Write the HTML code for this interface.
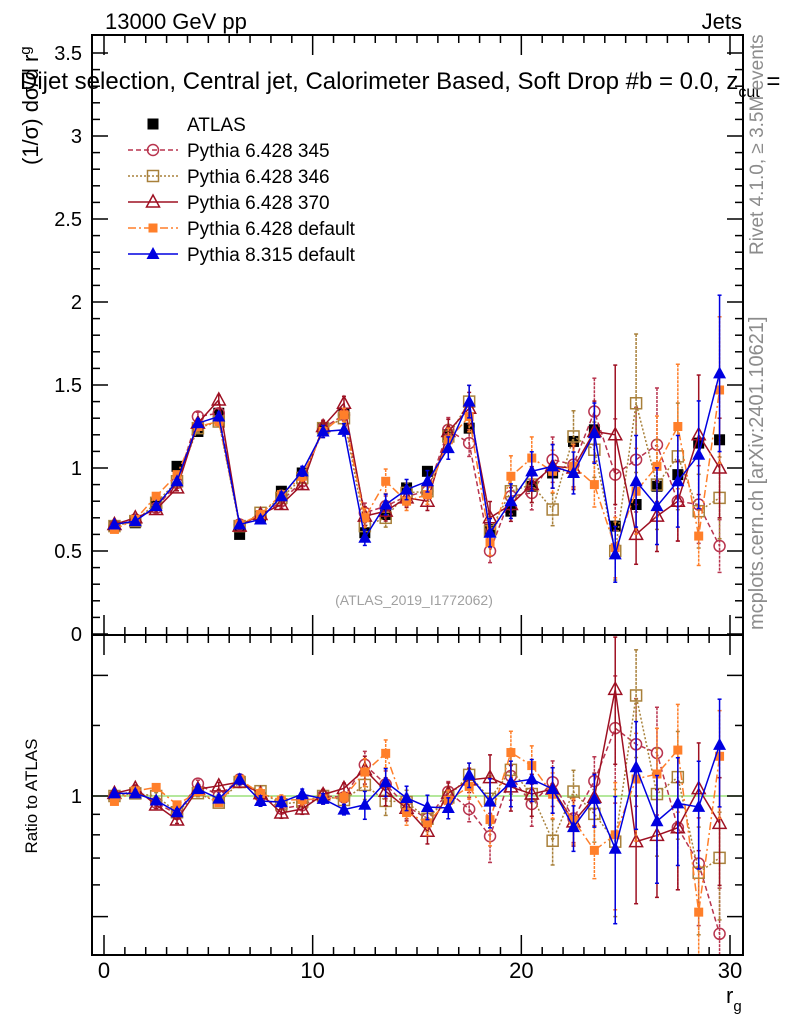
<!DOCTYPE html>
<html><head><meta charset="utf-8"><style>
html,body{margin:0;padding:0;background:#fff;}
svg{display:block;font-family:"Liberation Sans",sans-serif;}
</style></head><body>
<svg id="c" width="786" height="1024" viewBox="0 0 786 1024"></svg>
<script>
const bins=[0.5,1.5,2.5,3.5,4.5,5.5,6.5,7.5,8.5,9.5,10.5,11.5,12.5,13.5,14.5,15.5,16.5,17.5,18.5,19.5,20.5,21.5,22.5,23.5,24.5,25.5,26.5,27.5,28.5,29.5];
const atlas=[0.65,0.67,0.79,1.01,1.22,1.33,0.60,0.71,0.86,0.97,1.24,1.33,0.61,0.72,0.88,0.98,1.20,1.24,0.63,0.74,0.89,0.97,1.16,1.23,0.65,0.78,0.89,0.96,1.15,1.17];
const py345=[0.65,0.69,0.76,0.91,1.31,1.33,0.66,0.71,0.80,0.92,1.24,1.32,0.73,0.77,0.83,0.86,1.23,1.15,0.50,0.83,0.85,1.05,1.02,1.34,0.96,1.05,1.14,0.80,0.78,0.53];
const py346=[0.65,0.68,0.79,0.92,1.24,1.28,0.65,0.73,0.82,0.94,1.24,1.30,0.65,0.70,0.85,0.86,1.19,1.40,0.62,0.86,0.90,0.75,1.19,1.11,0.50,1.39,0.90,1.07,0.74,0.82];
const py370=[0.66,0.70,0.75,0.88,1.27,1.41,0.65,0.72,0.78,0.90,1.25,1.39,0.71,0.74,0.82,0.80,1.22,1.36,0.70,0.78,0.90,1.01,1.00,1.22,1.20,0.60,0.71,0.80,1.20,1.00];
const py6def=[0.63,0.69,0.83,0.96,1.25,1.28,0.66,0.72,0.84,0.95,1.22,1.32,0.70,0.92,0.80,0.84,1.17,1.31,0.55,0.95,1.06,0.98,1.01,0.90,0.52,0.86,1.01,1.25,0.59,1.47];
const py8=[0.66,0.68,0.77,0.92,1.27,1.31,0.66,0.69,0.83,0.98,1.22,1.23,0.58,0.78,0.87,0.92,1.12,1.40,0.61,0.80,0.98,1.01,0.97,1.21,0.48,0.92,0.77,0.92,1.08,1.57];
const mcRelErr=[0.02,0.02,0.02,0.02,0.02,0.02,0.03,0.03,0.03,0.03,0.03,0.03,0.08,0.08,0.07,0.07,0.06,0.07,0.14,0.13,0.12,0.13,0.13,0.15,0.35,0.3,0.3,0.3,0.3,0.3];
const yTicks=[0,0.5,1,1.5,2,2.5,3,3.5];
const yTickLabels=["0","0.5","1","1.5","2","2.5","3","3.5"];
const xTicks=[0,10,20,30];
const xTickLabels=["0","10","20","30"];

const NS="http://www.w3.org/2000/svg";
const svg=document.getElementById('c');
const L=92,R=743,T=35,MB=635,RB=955;
const X=v=>104+v*(730-104)/30;
const Y=v=>634-v*166;
const RY=r=>796-Math.log(r)*174;
function mk(tag,attrs,parent){const e=document.createElementNS(NS,tag);for(const k in attrs)e.setAttribute(k,attrs[k]);(parent||svg).appendChild(e);return e;}
function txt(s,attrs,parent){const e=mk('text',attrs,parent);e.textContent=s;return e;}

const defs=mk('defs',{});
const cp1=mk('clipPath',{id:'cm'},defs);mk('rect',{x:L,y:T,width:R-L,height:MB-T},cp1);
const cp2=mk('clipPath',{id:'cr'},defs);mk('rect',{x:L,y:MB,width:R-L,height:RB-MB},cp2);

const refl=mk('line',{x1:L,x2:R,y1:RY(1),y2:RY(1),stroke:'#9be07b','stroke-width':1.5});


const series=[
 {name:'pythia-6428-345',vals:py345,color:'#b8344e',dash:'5,3',marker:'circle',label:'Pythia 6.428 345'},
 {name:'pythia-6428-346',vals:py346,color:'#a8803a',dash:'2,2',marker:'osquare',label:'Pythia 6.428 346'},
 {name:'pythia-6428-370',vals:py370,color:'#9e1022',dash:'',marker:'otri',label:'Pythia 6.428 370'},
 {name:'pythia-6428-default',vals:py6def,color:'#ff7f2a',dash:'8,3,2,3',marker:'fsquare',label:'Pythia 6.428 default'},
 {name:'pythia-8315-default',vals:py8,color:'#0000e0',dash:'',marker:'ftri',label:'Pythia 8.315 default'}
];
function marker(type,x,y,color,g,nm){
 let e;
 if(type==='circle')e=mk('circle',{cx:x,cy:y,r:5.5,fill:'none',stroke:color,'stroke-width':1.5},g);
 else if(type==='osquare')e=mk('rect',{x:x-5.5,y:y-5.5,width:11,height:11,fill:'none',stroke:color,'stroke-width':1.5},g);
 else if(type==='fsquare')e=mk('rect',{x:x-4.5,y:y-4.5,width:9,height:9,fill:color},g);
 else if(type==='bsquare')e=mk('rect',{x:x-5.5,y:y-5.5,width:11,height:11,fill:color},g);
 else if(type==='otri')e=mk('polygon',{points:`${x},${y-7} ${x-6.5},${y+5} ${x+6.5},${y+5}`,fill:'none',stroke:color,'stroke-width':1.5},g);
 else e=mk('polygon',{points:`${x},${y-7} ${x-6.5},${y+5} ${x+6.5},${y+5}`,fill:color},g);
 
 
}
function drawSeries(s,ratio){
 const g=mk('g',{'clip-path':ratio?'url(#cr)':'url(#cm)'});
 
 
 const yf=(v,i)=>ratio?RY(v/atlas[i]):Y(v);
 const pts=s.vals.map((v,i)=>`${X(bins[i])},${yf(v,i)}`).join(' ');
 const pl=mk('polyline',{points:pts,fill:'none',stroke:s.color,'stroke-width':1.5,'stroke-dasharray':s.dash},g);
 
 
 s.vals.forEach((v,i)=>{
  const x=X(bins[i]);const e=v*mcRelErr[i];
  const y1=yf(v+e,i),y2=yf(Math.max(v-e,0.01),i);
  mk('line',{x1:x,x2:x,y1:y1,y2:y2,stroke:s.color,'stroke-width':1.5,'stroke-dasharray':s.dash?'3,1':''},g);
  mk('line',{x1:x-2,x2:x+2,y1:y1,y2:y1,stroke:s.color,'stroke-width':1.5},g);
  mk('line',{x1:x-2,x2:x+2,y1:y2,y2:y2,stroke:s.color,'stroke-width':1.5},g);
  marker(s.marker,x,yf(v,i),s.color,g,s.name+'-point');
 });
}
const ga=mk('g',{'clip-path':'url(#cm)'});


atlas.forEach((v,i)=>marker('bsquare',X(bins[i]),Y(v),'#000',ga,'atlas-point'));
series.forEach(s=>{drawSeries(s,false);drawSeries(s,true);});

const f1=mk('rect',{x:L,y:T,width:R-L,height:MB-T,fill:'none',stroke:'#000','stroke-width':2});

const f2=mk('rect',{x:L,y:MB,width:R-L,height:RB-MB,fill:'none',stroke:'#000','stroke-width':2});


for(let v=0;v<=3.6;v+=0.1){
 const vv=Math.round(v*10)/10;const major=Math.abs(vv*2-Math.round(vv*2))<1e-6;
 const len=major?16:8;
 mk('line',{x1:L,x2:L+len,y1:Y(vv),y2:Y(vv),stroke:'#000','stroke-width':1.5});
 mk('line',{x1:R,x2:R-len,y1:Y(vv),y2:Y(vv),stroke:'#000','stroke-width':1.5});
}
yTicks.forEach((v,i)=>{const t=txt(yTickLabels[i],{x:82,y:Y(v)+7,'font-size':20,'text-anchor':'end'});
 });
for(let v=0;v<=30;v++){
 const major=v%10===0;const len=major?20:8;
 [[T,1],[MB,-1],[MB,1],[RB,-1]].forEach(([y0,d])=>mk('line',{x1:X(v),x2:X(v),y1:y0,y2:y0+d*len,stroke:'#000','stroke-width':1.5}));
}
xTicks.forEach((v,i)=>{const t=txt(xTickLabels[i],{x:X(v),y:978,'font-size':22,'text-anchor':'middle'});
 });
[0.5,1,2].forEach(r=>{mk('line',{x1:L,x2:L+16,y1:RY(r),y2:RY(r),stroke:'#000','stroke-width':1.5});mk('line',{x1:R,x2:R-16,y1:RY(r),y2:RY(r),stroke:'#000','stroke-width':1.5});});
[0.6,0.7,0.8,0.9,1.5].forEach(r=>{mk('line',{x1:L,x2:L+8,y1:RY(r),y2:RY(r),stroke:'#000','stroke-width':1.5});mk('line',{x1:R,x2:R-8,y1:RY(r),y2:RY(r),stroke:'#000','stroke-width':1.5});});
const r1=txt('1',{x:82,y:RY(1)+7,'font-size':20,'text-anchor':'end'});


const lg=mk('g',{});

const le0=mk('g',{},lg);
marker('bsquare',153,124,'#000',le0,'legend-marker');
txt('ATLAS',{x:187,y:131,'font-size':19},le0);
series.forEach((s,i)=>{
 const y=150+i*26;
 const g=mk('g',{},lg);
 
 
 mk('line',{x1:128,x2:178,y1:y,y2:y,stroke:s.color,'stroke-width':1.5,'stroke-dasharray':s.dash},g);
 marker(s.marker,153,y,s.color,g,'legend-marker');
 txt(s.label,{x:187,y:y+7,'font-size':19},g);
});
</script>
<svg style="position:absolute;left:0;top:0" width="786" height="1024">
<text x="105" y="29" font-size="22" font-family="Liberation Sans">13000 GeV pp</text>
<text x="742" y="29" font-size="22" text-anchor="end" font-family="Liberation Sans">Jets</text>
<text x="20" y="89" font-size="24" font-family="Liberation Sans">Dijet selection, Central jet, Calorimeter Based, Soft Drop #b = 0.0, z<tspan font-size="16" dy="8">cut</tspan><tspan dy="-8"> =</tspan></text>
<text transform="translate(38,165) rotate(-90)" font-size="22" font-family="Liberation Sans">(1/σ) dσ/d r<tspan font-size="15" dy="-8">g</tspan></text>
<text transform="translate(37,796) rotate(-90)" font-size="17" text-anchor="middle" font-family="Liberation Sans">Ratio to ATLAS</text>
<text x="726" y="1003" font-size="22" font-family="Liberation Sans">r<tspan font-size="15" dy="8">g</tspan></text>
<text x="414" y="605" font-size="14" text-anchor="middle" fill="#a0a0a0" font-family="Liberation Sans">(ATLAS_2019_I1772062)</text>
<text transform="translate(763,255) rotate(-90)" font-size="19" fill="#8c8c8c" font-family="Liberation Sans">Rivet 4.1.0, ≥ 3.5M events</text>
<text transform="translate(763,630) rotate(-90)" font-size="20" fill="#8c8c8c" font-family="Liberation Sans">mcplots.cern.ch [arXiv:2401.10621]</text>
</svg>
</body></html>
